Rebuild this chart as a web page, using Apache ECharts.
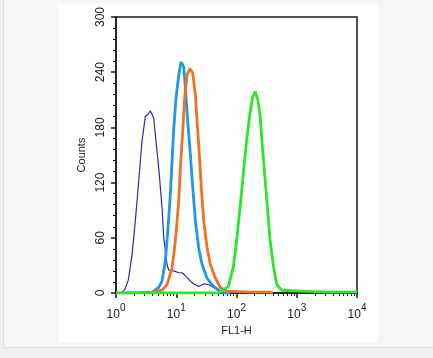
<!DOCTYPE html>
<html><head><meta charset="utf-8">
<script src="https://cdn.jsdelivr.net/npm/echarts@6/dist/echarts.min.js"></script>
<style>
html,body{margin:0;padding:0;background:#eff0f0;width:433px;height:358px;overflow:hidden}
#card{position:absolute;left:3px;top:-1px;width:440px;height:347px;background:#f5f6f6;border:1px solid #dedfdf;}
#panel{position:absolute;left:59px;top:4px;width:319px;height:338px;background:#fff}
#chart{position:absolute;left:0;top:0;width:433px;height:358px}
</style></head><body>
<div id="card"></div><div id="panel"></div><div id="chart"></div>
<script>
// ---- data ----
const xMajorTicks = [1, 10, 100, 1000, 10000];
const xMinorMultipliers = [2, 3, 4, 5, 6, 7, 8, 9];
const yTicks = [0, 60, 120, 180, 240, 300];

const darkBlueX = [1, 1.22, 1.40, 1.60, 1.85, 2.09, 2.38, 2.70, 3.07, 3.40, 3.71, 4.23, 4.50, 5.12, 5.81, 6.20, 7.03, 7.50, 9.09, 11.0, 12.5, 15.1, 18.3, 23.6, 28.6, 34.7, 42.0, 50.8, 57.6];
const darkBlueY = [0, 0, 4, 14, 42, 78, 121, 165, 192, 194, 198, 190, 172, 136, 93, 60, 31, 25, 24, 22, 22, 17, 11, 7, 10, 9, 6, 2, 0];

const lightBlueX = [1.5, 2.5, 3.96, 5.12, 5.81, 6.59, 7.31, 7.98, 8.51, 9.09, 9.93, 11.0, 12.0, 13.3, 14.2, 15.5, 17.2, 18.8, 20.8, 23.6, 26.8, 32.5, 39.3, 50.8, 61.5, 80];
const lightBlueY = [0, 0.5, 1, 6, 13, 35, 71, 107, 143, 179, 212, 237, 251, 246, 223, 186, 150, 114, 78, 49, 31, 16, 9, 3, 0, 0];

const orangeX = [3.5, 5.81, 7.03, 8.51, 9.66, 11.0, 11.7, 12.8, 13.8, 15.1, 16.8, 18.8, 20.8, 22.2, 24.2, 26.1, 28.6, 32.5, 36.8, 44.7, 54.0, 69.8, 168, 361, 400];
const orangeY = [0, 3, 9, 27, 56, 100, 136, 176, 212, 237, 244, 239, 215, 186, 150, 114, 78, 49, 31, 16, 6, 2, 1, 1, 0];

const greenX = [1, 50, 73.3, 88.9, 101, 115, 130, 148, 168, 184, 204, 226, 247, 269, 299, 331, 361, 410, 467, 565, 1138, 3589, 10000];
const greenY = [0, 0, 7, 29, 58, 94, 130, 167, 196, 212, 219, 210, 192, 159, 123, 87, 58, 29, 9, 3, 2, 1, 1];

// ---- chart ----
const font = "'Liberation Sans', Arial, Helvetica, sans-serif";
const ink = '#1a1a1a';
const zip = (xs, ys) => xs.map((x, i) => [x, ys[i]]);
// minor tick positions, expressed as decades on a helper linear axis spanning 0..4
const minorTickDecades = [];
xMajorTicks.slice(0, -1).forEach(d => xMinorMultipliers.forEach(m => minorTickDecades.push(Math.log10(d * m))));

const mk = (name, xs, ys, color, width) => ({
  name, type: 'line', data: zip(xs, ys), showSymbol: false, symbol: 'none',
  lineStyle: { color, width }, xAxisIndex: 0, yAxisIndex: 0, clip: true
});

const chart = echarts.init(document.getElementById('chart'), null, { renderer: 'canvas' });
chart.setOption({
  animation: false,
  grid: { left: 116, top: 17, right: 76, bottom: 65, show: true, borderColor: ink, borderWidth: 1.5, backgroundColor: 'transparent' },
  xAxis: [{
    type: 'log', logBase: 10, min: 1, max: 10000, position: 'bottom',
    axisLine: { show: true, onZero: false, lineStyle: { color: ink, width: 1.5 } },
    axisTick: { show: true, length: 5, lineStyle: { color: ink, width: 1.5 } },
    splitLine: { show: false },
    axisLabel: {
      margin: 10,
      formatter: v => '{b|10}{s|' + Math.round(Math.log10(v)) + '}',
      rich: {
        b: { fontSize: 12, fontFamily: font, color: ink, lineHeight: 18, verticalAlign: 'bottom' },
        s: { fontSize: 10, fontFamily: font, color: ink, lineHeight: 18, verticalAlign: 'top' }
      }
    },
    name: 'FL1-H', nameLocation: 'middle', nameGap: 26,
    nameTextStyle: { fontSize: 11, fontFamily: font, color: ink, verticalAlign: 'top' }
  }, {
    type: 'value', min: 0, max: 4, position: 'bottom', gridIndex: 0,
    axisLine: { show: false, onZero: false }, axisLabel: { show: false }, splitLine: { show: false },
    axisTick: { show: true, length: 3, customValues: minorTickDecades, lineStyle: { color: ink, width: 1 } }
  }],
  yAxis: {
    type: 'value', min: 0, max: 300, interval: 60,
    axisLine: { show: true, lineStyle: { color: ink, width: 1.5 } },
    axisTick: { show: true, length: 5, lineStyle: { color: ink, width: 1.5 } },
    minorTick: { show: true, splitNumber: 5, length: 3, lineStyle: { color: ink, width: 1 } },
    splitLine: { show: false }, minorSplitLine: { show: false },
    axisLabel: { rotate: 90, margin: 9, fontSize: 12, fontFamily: font, color: ink },
    name: 'Counts', nameLocation: 'middle', nameGap: 28, nameRotate: 90,
    nameTextStyle: { fontSize: 11, fontFamily: font, color: ink }
  },
  series: [
    mk('dark blue', darkBlueX, darkBlueY, '#2a2ab8', 1.2),
    mk('light blue', lightBlueX, lightBlueY, '#1e98ea', 2.8),
    mk('orange', orangeX, orangeY, '#f2711f', 2.8),
    mk('green', greenX, greenY, '#2fe52a', 2.8)
  ]
});
</script>
</body></html>
